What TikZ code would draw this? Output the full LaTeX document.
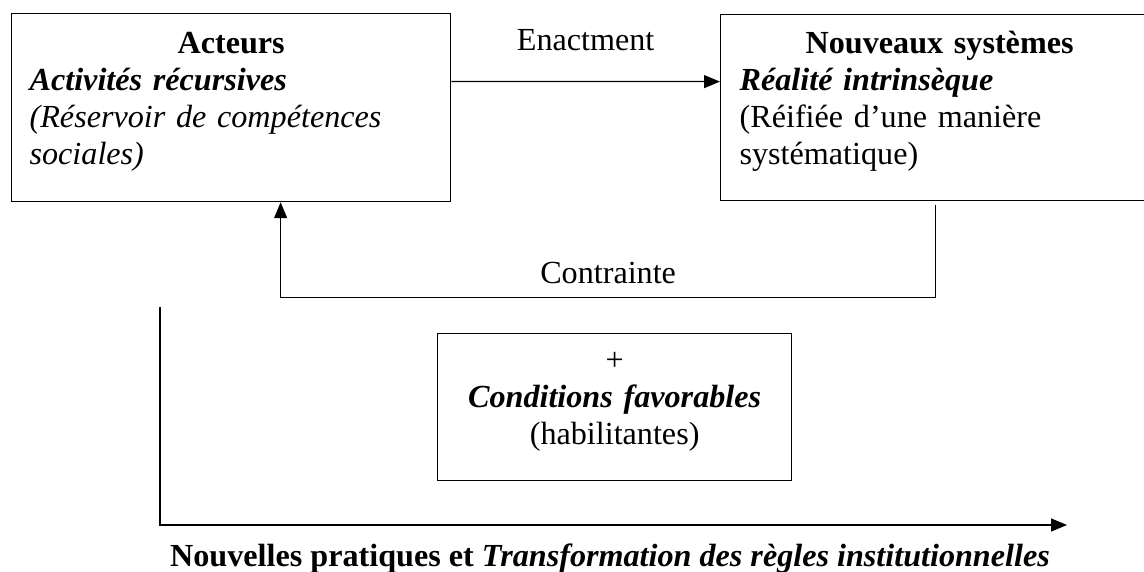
\documentclass[tikz,border=0pt]{standalone}
\usepackage{fontspec}
\setmainfont{Liberation Serif}
\usepackage{tikz}
\tikzset{every picture/.style={/utils/exec={\fontsize{18.3}{21}\selectfont}}}
\usetikzlibrary{arrows.meta}
\tikzset{
  boite/.style={draw, line width=0.25mm, anchor=north west, inner ysep=0pt, inner xsep=3.6mm},
  fleche/.style={-{Triangle[length=3.2mm, width=2.6mm]}, line width=0.25mm}
}

\begin{document}
\begin{tikzpicture}
        \useasboundingbox (0mm, 0mm) rectangle (228.8mm, 114.4mm);
        \clip (0mm, 0mm) rectangle (228.8mm, 114.4mm);
        \node[boite, text width=80.6mm, align=left, text height=8mm, text depth=29.6mm] (acteurs) at (2.2mm, 111.8mm)
            {\makebox[\linewidth]{\textbf{Acteurs}}\\ \textbf{\textit{Activités récursives}}\\ \textit{(Réservoir de compétences}\\ \textit{sociales)}};
        \node[boite, text width=80mm, align=left, inner xsep=3.8mm, text height=7.8mm, text depth=29.4mm] (systemes) at (144mm, 111.6mm)
            {\makebox[\linewidth]{\textbf{Nouveaux systèmes}}\\ \textbf{\textit{Réalité intrinsèque}}\\ (Réifiée d’une manière\\ systématique)};
        \node[boite, text width=64mm, inner xsep=3.4mm, align=center, text height=7.4mm, text depth=22mm] (conditions) at (87.4mm, 47.8mm)
            {+\\ \textbf{\textit{Conditions favorables}}\\ (habilitantes)};
        \draw[fleche] ([yshift=5.2mm]acteurs.east) -- node[anchor=base, yshift=6.2mm] (enactment) {Enactment} ([yshift=5.2mm]systemes.west);
        \draw[fleche] ([xshift=-0.8mm, yshift=-0.8mm]systemes.south) -- ++(0mm, -18.4mm)
            -| node[pos=0.25, anchor=base, yshift=2.8mm] (contrainte) {Contrainte} ([xshift=9.9mm]acteurs.south);
        \coordinate (axehaut) at (32mm, 53mm);
        \coordinate (axefin) at (213.4mm, 9.4mm);
        \draw[fleche] (axehaut) |- (axefin);
        \node[anchor=base, font=\bfseries] (pratiques) at (122mm, 1mm)
            {Nouvelles pratiques et \textit{Transformation des règles institutionnelles}};
    \end{tikzpicture}
\end{document}
